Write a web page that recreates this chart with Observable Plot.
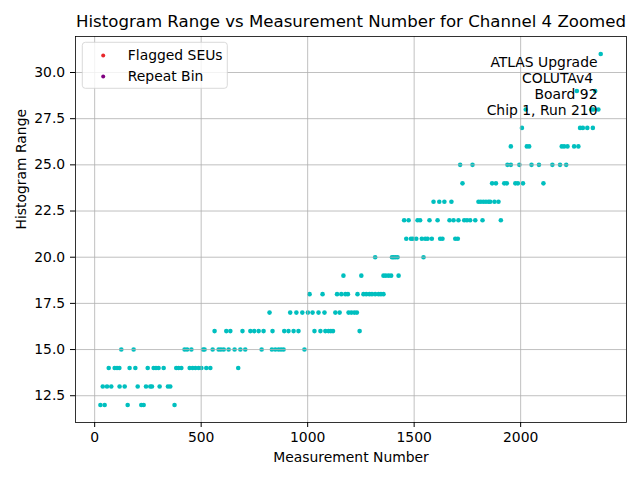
<!DOCTYPE html>
<html>
<head>
<meta charset="utf-8">
<script src="https://cdn.jsdelivr.net/npm/d3@7"></script>
<script src="https://cdn.jsdelivr.net/npm/@observablehq/plot@0.6"></script>
<style>
  html, body { margin: 0; padding: 0; background: white; }
  #chart { width: 640px; height: 480px; }
</style>
</head>
<body>
<div id="chart"></div>
<script>
// Histogram range levels and the measurement numbers at each level
const levels = [12, 13, 14, 15, 16, 17, 18, 19, 20, 21, 22, 23, 24, 25, 26, 27, 28, 29, 31];
const range12 = [27, 47, 155, 219, 230, 375];
const range13 = [38, 58, 78, 117, 141, 202, 241, 261, 269, 305, 344, 355];
const range14 = [66, 94, 105, 116, 164, 191, 249, 277, 288, 300, 324, 383, 394, 407, 446, 460, 473, 488, 501, 524, 543, 674];
const range15 = [125, 183, 422, 434, 454, 509, 516, 554, 582, 593, 606, 629, 657, 684, 707, 784, 832, 848, 863, 875, 887, 985];
const range16 = [563, 618, 637, 694, 731, 749, 770, 793, 835, 890, 910, 934, 957, 1032, 1060, 1083, 1098, 1109, 1119, 1244];
const range17 = [821, 918, 947, 975, 1001, 1023, 1051, 1079, 1130, 1150, 1192, 1205, 1219, 1231];
const range18 = [1009, 1070, 1138, 1158, 1177, 1189, 1234, 1262, 1275, 1290, 1302, 1317, 1333, 1344, 1356];
const range19 = [1168, 1252, 1356, 1367, 1380, 1392, 1427];
const range20 = [1317, 1396, 1403, 1412, 1422, 1544];
const range21 = [1463, 1485, 1494, 1510, 1536, 1552, 1563, 1583, 1622, 1633, 1693, 1705];
const range22 = [1453, 1474, 1516, 1528, 1572, 1610, 1666, 1685, 1708, 1735, 1748, 1763, 1787, 1821, 1907];
const range23 = [1591, 1618, 1642, 1675, 1802, 1813, 1825, 1837, 1849, 1857, 1877, 1896];
const range24 = [1727, 1866, 1884, 1923, 1935, 1975, 1987, 2011, 2107];
const range25 = [1716, 1774, 1938, 1954, 1994, 2051, 2086, 2149, 2185, 2214];
const range26 = [1954, 2029, 2040, 2193, 2204, 2220, 2251, 2271];
const range27 = [2006, 2279, 2292, 2313, 2339];
const range28 = [2024, 2331, 2342, 2365];
const range29 = [2264, 2350];
const range31 = [2376];
const measurementsByLevel = [range12, range13, range14, range15, range16, range17, range18, range19, range20,
  range21, range22, range23, range24, range25, range26, range27, range28, range29, range31];

const xTicks = [0, 500, 1000, 1500, 2000];
const yTicks = [12.5, 15.0, 17.5, 20.0, 22.5, 25.0, 27.5, 30.0];
const xDomain = [-90, 2497];
const yDomain = [11.05, 31.95];

const legendLabels = ["Flagged SEUs", "Repeat Bin"];
const legendColors = ["#e8262a", "#800080"];
const annotation = ["ATLAS Upgrade", "COLUTAv4\u00a0", "Board 92", "Chip 1, Run 210"];
const titleText = "Histogram Range vs Measurement Number for Channel 4 Zoomed";

const points = [];
levels.forEach((lv, i) => measurementsByLevel[i].forEach(m => points.push({m, r: lv})));

const FONT = "DejaVu Sans";
const FS = 13.9;
const plot = Plot.plot({
  width: 640,
  height: 480,
  marginLeft: 75,
  marginRight: 14,
  marginTop: 36,
  marginBottom: 58,
  style: {fontFamily: FONT, fontSize: FS + "px", color: "black", background: "white", overflow: "visible"},
  x: {domain: xDomain, ticks: xTicks},
  y: {domain: yDomain, ticks: yTicks},
  marks: [
    Plot.dot(points, {x: "m", y: "r", r: 2.3, fill: "#00bfbf", stroke: null}),
    Plot.gridX(xTicks, {stroke: "#b0b0b0", strokeOpacity: 1, strokeWidth: 0.8}),
    Plot.gridY(yTicks, {stroke: "#b0b0b0", strokeOpacity: 1, strokeWidth: 0.8}),
    Plot.frame({stroke: "black", strokeWidth: 0.8}),
    Plot.axisX({ticks: xTicks, tickSize: 5, tickPadding: 4.3, tickFormat: d3.format("d"), label: null, fontSize: FS}),
    Plot.axisY({ticks: yTicks, tickSize: 5, tickPadding: 5.3, tickFormat: d3.format(".1f"), label: null, fontSize: FS}),
    Plot.dot(legendLabels, {frameAnchor: "top-left", dx: 27.7, dy: 19, r: 2, fill: legendColors[0], stroke: null, filter: (d, i) => i === 0}),
    Plot.dot(legendLabels, {frameAnchor: "top-left", dx: 27.7, dy: 40, r: 2, fill: legendColors[1], stroke: null, filter: (d, i) => i === 1}),
    Plot.text([legendLabels[0]], {frameAnchor: "top-left", dx: 52.3, dy: 19, text: d => d, textAnchor: "start", lineAnchor: "middle", fontSize: FS, fill: "black"}),
    Plot.text([legendLabels[1]], {frameAnchor: "top-left", dx: 52.3, dy: 40, text: d => d, textAnchor: "start", lineAnchor: "middle", fontSize: FS, fill: "black"}),
    Plot.text([annotation.join("\n")], {frameAnchor: "top-right", dx: -29, dy: 49.4, text: d => d, textAnchor: "end", lineAnchor: "middle", lineHeight: 1.135, fontSize: FS, fill: "black"}),
    Plot.text([titleText], {frameAnchor: "top", dy: -15, text: d => d, lineAnchor: "middle", fontSize: 16.6, fill: "black"}),
    Plot.text(["Measurement Number"], {frameAnchor: "bottom", dy: 35.3, text: d => d, lineAnchor: "middle", fontSize: FS, fill: "black"}),
    Plot.text(["Histogram Range"], {frameAnchor: "left", dx: -54.3, text: d => d, rotate: -90, lineAnchor: "middle", fontSize: FS, fill: "black"})
  ]
});
document.getElementById("chart").appendChild(plot);

// legend frame, placed beneath the legend markers
const svg = d3.select(plot);
const dotGroups = svg.selectAll('g[aria-label="dot"]').nodes();
const before = dotGroups[1];
const rect = document.createElementNS("http://www.w3.org/2000/svg", "rect");
rect.setAttribute("x", 82.3);
rect.setAttribute("y", 42.3);
rect.setAttribute("width", 145);
rect.setAttribute("height", 46);
rect.setAttribute("rx", 3);
rect.setAttribute("fill", "white");
rect.setAttribute("fill-opacity", 0.8);
rect.setAttribute("stroke", "#d0d0d0");
rect.setAttribute("stroke-width", 0.8);
before.parentNode.insertBefore(rect, before);
</script>
</body>
</html>
